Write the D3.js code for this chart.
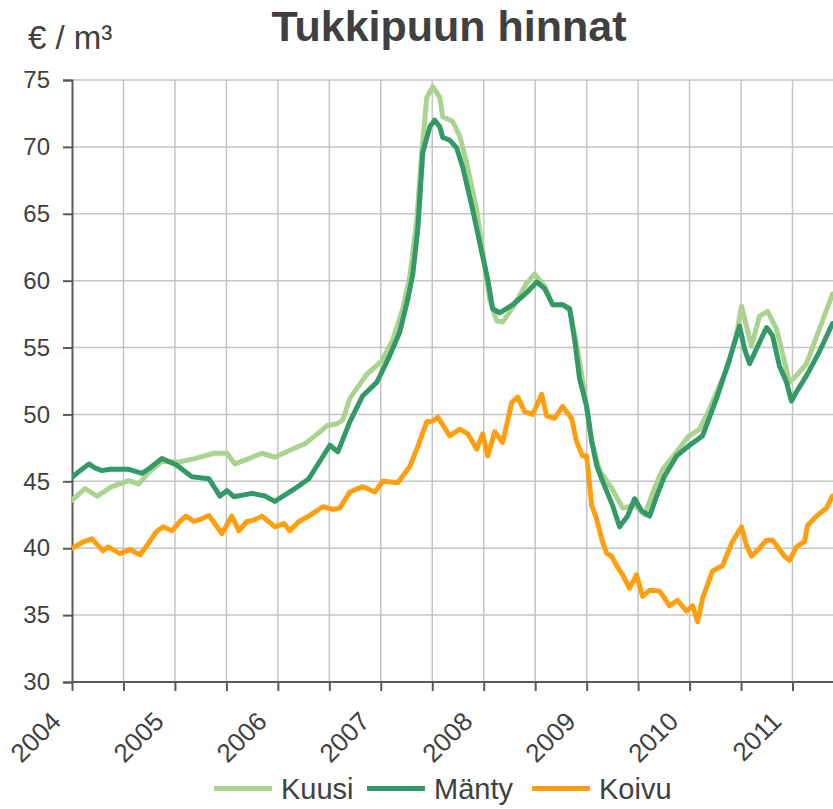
<!DOCTYPE html>
<html>
<head>
<meta charset="utf-8">
<script src="https://cdn.jsdelivr.net/npm/d3@7"></script>
<style>
  html, body { margin: 0; padding: 0; background: #ffffff; }
  svg { display: block; }
  text { font-family: "Liberation Sans", Arial, sans-serif; }
</style>
</head>
<body>
<svg id="chart" width="833" height="809"></svg>
<script>
// ---- Data (decimal years, €/m³) ----
const seriesNames = ["Kuusi", "Mänty", "Koivu"];
const yTicks = [30, 35, 40, 45, 50, 55, 60, 65, 70, 75];
const yearLabels = [2004, 2005, 2006, 2007, 2008, 2009, 2010, 2011];

const kuusiDates = [2004.00,2004.126,2004.243,2004.388,2004.553,2004.650,2004.748,2004.874,2005.039,2005.194,2005.379,2005.505,2005.583,2005.718,2005.845,2005.971,2006.136,2006.262,2006.408,2006.476,2006.573,2006.631,2006.699,2006.864,2007.010,2007.117,2007.214,2007.282,2007.350,2007.398,2007.447,2007.505,2007.573,2007.602,2007.699,2007.767,2007.835,2007.932,2008.058,2008.126,2008.184,2008.282,2008.417,2008.495,2008.592,2008.670,2008.767,2008.835,2008.913,2008.981,2009.049,2009.126,2009.243,2009.350,2009.466,2009.563,2009.660,2009.738,2009.854,2009.981,2010.097,2010.194,2010.359,2010.456,2010.505,2010.553,2010.602,2010.680,2010.757,2010.845,2010.971,2011.039,2011.136,2011.262,2011.388];
const kuusiValues = [43.6,44.45,43.9,44.6,45.05,44.8,45.7,46.5,46.45,46.7,47.1,47.1,46.3,46.7,47.1,46.8,47.4,47.8,48.7,49.15,49.3,49.6,51.2,53.0,54.0,55.6,57.9,60.3,64.6,69.6,73.7,74.5,73.7,72.25,71.9,70.8,68.8,65.3,58.6,57.0,56.9,58.0,59.8,60.5,59.6,58.2,58.2,57.8,54.8,51.5,48.0,45.8,44.5,43.0,43.2,42.5,44.5,45.9,47.0,48.3,48.9,50.4,53.4,56.0,58.1,56.6,55.1,57.35,57.7,56.4,52.4,52.9,53.8,56.4,59.0];

const mantyDates = [2004.00,2004.078,2004.165,2004.223,2004.291,2004.369,2004.553,2004.680,2004.757,2004.874,2005.019,2005.165,2005.330,2005.437,2005.505,2005.573,2005.748,2005.874,2005.971,2006.165,2006.301,2006.408,2006.505,2006.583,2006.699,2006.825,2006.961,2007.087,2007.184,2007.262,2007.311,2007.359,2007.408,2007.476,2007.524,2007.573,2007.602,2007.670,2007.738,2007.796,2007.893,2007.990,2008.039,2008.087,2008.155,2008.282,2008.417,2008.515,2008.592,2008.670,2008.767,2008.835,2008.883,2008.932,2009.000,2009.049,2009.097,2009.155,2009.252,2009.320,2009.398,2009.466,2009.534,2009.612,2009.680,2009.757,2009.874,2010.000,2010.126,2010.262,2010.388,2010.485,2010.534,2010.583,2010.650,2010.748,2010.806,2010.874,2010.942,2010.990,2011.039,2011.136,2011.262,2011.388];
const mantyValues = [45.3,45.8,46.3,46.0,45.8,45.9,45.9,45.6,46.0,46.7,46.2,45.35,45.2,43.9,44.3,43.85,44.1,43.9,43.5,44.45,45.2,46.5,47.7,47.2,49.45,51.4,52.4,54.4,56.15,58.6,60.5,63.8,69.6,71.5,72.0,71.5,70.7,70.5,69.9,68.5,65.3,61.8,60.1,57.9,57.6,58.2,59.1,59.9,59.4,58.2,58.2,57.9,55.6,52.65,50.6,48.0,46.2,45.0,43.2,41.6,42.4,43.7,42.8,42.4,43.9,45.4,46.9,47.7,48.4,51.2,54.1,56.6,54.9,53.8,54.9,56.5,55.9,53.6,52.4,51.0,51.7,52.9,54.7,56.8];

const koivuDates = [2004.00,2004.117,2004.194,2004.301,2004.350,2004.466,2004.563,2004.660,2004.738,2004.816,2004.883,2004.971,2005.049,2005.107,2005.184,2005.262,2005.330,2005.456,2005.553,2005.621,2005.699,2005.767,2005.845,2005.971,2006.058,2006.117,2006.204,2006.311,2006.437,2006.534,2006.602,2006.699,2006.825,2006.942,2007.019,2007.165,2007.282,2007.359,2007.447,2007.505,2007.553,2007.670,2007.767,2007.845,2007.932,2007.990,2008.039,2008.107,2008.184,2008.272,2008.330,2008.398,2008.476,2008.563,2008.612,2008.689,2008.767,2008.854,2008.903,2008.961,2009.000,2009.049,2009.097,2009.146,2009.194,2009.243,2009.291,2009.350,2009.417,2009.485,2009.544,2009.612,2009.709,2009.806,2009.883,2009.971,2010.029,2010.078,2010.126,2010.223,2010.320,2010.417,2010.505,2010.553,2010.602,2010.680,2010.748,2010.806,2010.922,2010.971,2011.039,2011.117,2011.146,2011.233,2011.330,2011.388];
const koivuValues = [40.0,40.5,40.7,39.8,40.1,39.6,39.9,39.5,40.3,41.2,41.6,41.3,42.0,42.4,42.0,42.2,42.45,41.1,42.4,41.3,42.0,42.1,42.4,41.6,41.85,41.3,42.0,42.45,43.1,42.9,43.0,44.2,44.6,44.2,45.0,44.9,46.1,47.6,49.45,49.5,49.8,48.4,48.9,48.55,47.4,48.55,46.9,48.7,47.9,50.9,51.3,50.2,50.0,51.5,49.9,49.7,50.6,49.7,47.95,46.9,46.9,43.2,42.2,40.7,39.6,39.4,38.7,38.0,37.0,38.0,36.4,36.85,36.8,35.7,36.1,35.3,35.7,34.5,36.25,38.3,38.7,40.5,41.6,40.2,39.4,40.0,40.6,40.6,39.4,39.1,40.1,40.5,41.7,42.4,43.0,43.9];

const seriesColors = ["#aad38f", "#339966", "#ff9f10"];

// ---- Layout ----
const FONT = "Liberation Sans, Arial, sans-serif";
const svg = d3.select("#chart");
const W = 833, H = 809;
const plotLeft = 72, plotTop = 80, plotBottom = 682;
const x = d3.scaleLinear().domain([2004, 2011]).range([plotLeft, 792.5]);
const xMax = x.invert(W);
const y = d3.scaleLinear().domain([30, 75]).range([plotBottom, plotTop]);
const textColor = "#404040";
const axisColor = "#595959";

// half-year gridlines
const halfYears = d3.range(0, Math.floor((xMax - 2004) * 2) + 1).map(i => 2004 + i / 2);

// horizontal gridlines
svg.append("g").selectAll("line").data(yTicks.filter(v => v > 30)).join("line")
  .attr("x1", plotLeft).attr("x2", W)
  .attr("y1", d => y(d)).attr("y2", d => y(d))
  .attr("stroke", "#c4c4c4").attr("stroke-width", 1.5);

// vertical gridlines
svg.append("g").selectAll("line").data(halfYears.filter(v => v > 2004)).join("line")
  .attr("x1", d => x(d)).attr("x2", d => x(d))
  .attr("y1", plotTop).attr("y2", plotBottom)
  .attr("stroke", "#c4c4c4").attr("stroke-width", 1.5);

// y axis
const yAxis = d3.axisLeft(y).tickValues(yTicks).tickSize(9).tickPadding(13).tickFormat(d3.format("d"));
const gy = svg.append("g").attr("transform", `translate(${plotLeft},0)`).call(yAxis)
  .attr("font-family", FONT).attr("font-size", 24);
gy.select(".domain").attr("stroke", axisColor).attr("stroke-width", 2);
gy.selectAll(".tick line").attr("stroke", axisColor).attr("stroke-width", 2);
gy.selectAll(".tick text").attr("fill", textColor);

// x axis
const xAxis = d3.axisBottom(x).tickValues(halfYears).tickSize(9).tickFormat("");
const gx = svg.append("g").attr("transform", `translate(0,${plotBottom})`).call(xAxis);
gx.select(".domain").attr("d", `M${plotLeft},0H${W}`).attr("stroke", axisColor).attr("stroke-width", 2);
gx.selectAll(".tick line").attr("stroke", axisColor).attr("stroke-width", 2);

// rotated year labels
svg.append("g").attr("font-family", FONT).selectAll("text").data(yearLabels).join("text")
  .attr("transform", d => `translate(${x(d) - 9.5},${plotBottom + 41}) rotate(-45)`)
  .attr("text-anchor", "end")
  .attr("fill", textColor)
  .attr("font-size", 26)
  .text(d => d);

// lines
svg.append("clipPath").attr("id", "plotclip").append("rect")
  .attr("x", plotLeft).attr("y", 0).attr("width", W - plotLeft).attr("height", H);

const line = d3.line().x(d => x(d[0])).y(d => y(d[1])).curve(d3.curveLinear);
const seriesData = [
  d3.zip(kuusiDates, kuusiValues),
  d3.zip(mantyDates, mantyValues),
  d3.zip(koivuDates, koivuValues)
];
const gl = svg.append("g").attr("clip-path", "url(#plotclip)");
seriesData.forEach((s, i) => {
  gl.append("path").datum(s)
    .attr("d", line)
    .attr("fill", "none")
    .attr("stroke", seriesColors[i])
    .attr("stroke-width", 5)
    .attr("stroke-linejoin", "round")
    .attr("stroke-linecap", "round");
});

// title and unit label
svg.append("text").attr("x", 449).attr("y", 41).attr("text-anchor", "middle")
  .attr("font-family", FONT)
  .attr("font-size", 43).attr("font-weight", "bold").attr("fill", textColor)
  .text("Tukkipuun hinnat");
svg.append("text").attr("x", 28).attr("y", 49)
  .attr("font-family", FONT)
  .attr("font-size", 33).attr("fill", textColor)
  .text("€ / m³");

// legend
const legendX = [214, 367, 532];
const lg = svg.append("g").attr("font-family", FONT);
seriesNames.forEach((name, i) => {
  lg.append("line").attr("x1", legendX[i]).attr("x2", legendX[i] + 58)
    .attr("y1", 788.5).attr("y2", 788.5)
    .attr("stroke", seriesColors[i]).attr("stroke-width", 5);
  lg.append("text").attr("x", legendX[i] + 67).attr("y", 799)
    .attr("font-size", 29).attr("fill", textColor).text(name);
});
</script>
</body>
</html>
